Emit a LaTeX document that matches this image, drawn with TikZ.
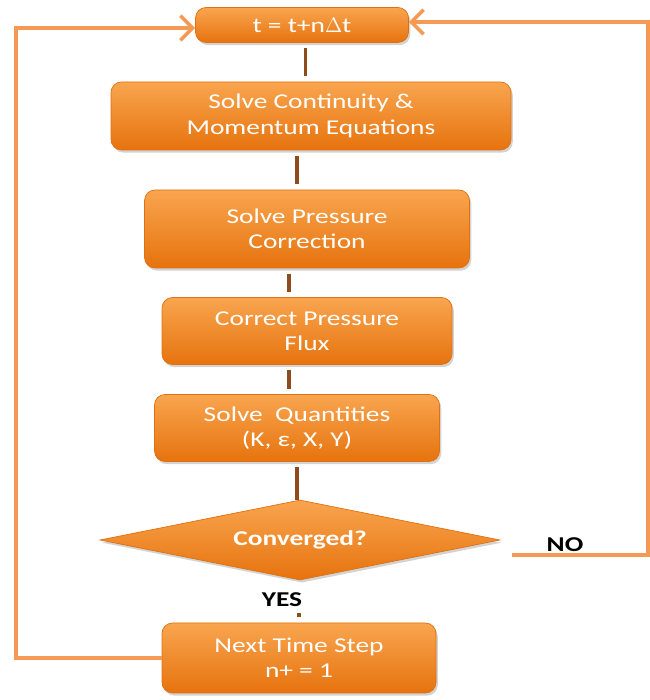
\documentclass[tikz,border=0pt]{standalone}
\usepackage{fontspec}
\setsansfont{Carlito}[FakeStretch=1.3]
\usetikzlibrary{shapes.geometric,arrows.meta,shadows}
\definecolor{boxtop}{HTML}{F9A54F}
\definecolor{boxbot}{HTML}{E6730E}
\definecolor{boxline}{HTML}{E07010}
\definecolor{loopline}{HTML}{F59A55}
\definecolor{linkline}{HTML}{8E4C1C}

\begin{document}
\begin{tikzpicture}[
    stepbox/.style={draw=boxline,rounded corners=6pt,top color=boxtop,bottom color=boxbot,
      text=white,align=center,inner sep=0pt,font=\sffamily\fontsize{12}{14.5}\selectfont,
      drop shadow={opacity=0.35,shadow xshift=1pt,shadow yshift=-1.5pt}},
    decision/.style={diamond,aspect=5,draw=boxline,top color=boxtop,bottom color=boxbot,
      text=white,inner sep=0pt,minimum width=8cm,minimum height=1.6cm,
      font=\sffamily\bfseries\fontsize{12}{14.5}\selectfont,
      drop shadow={opacity=0.35,shadow xshift=1pt,shadow yshift=-1.5pt}},
    link/.style={draw=linkline,line width=2.2pt,shorten <=3pt,shorten >=3pt},
    loop/.style={draw=loopline,line width=2pt,-{Straight Barb[length=7pt,width=14pt]}},
    answer/.style={font=\sffamily\bfseries\fontsize{12}{14}\selectfont}
  ]
  \useasboundingbox (0,0) rectangle (13,14);

  \node[stepbox,minimum width=4.26cm,minimum height=0.7cm] (time) at (6.04,13.5) {t = t+n$\Delta$t};
  \node[stepbox,minimum width=8cm,minimum height=1.36cm] (cont) at (6.22,11.68) {Solve Continuity \&\\Momentum Equations};
  \node[stepbox,minimum width=6.5cm,minimum height=1.56cm] (press) at (6.14,9.42) {Solve Pressure\\Correction};
  \node[stepbox,minimum width=5.8cm,minimum height=1.34cm] (flux) at (6.14,7.38) {Correct Pressure\\Flux};
  \node[stepbox,minimum width=5.7cm,minimum height=1.34cm] (quant) at (5.94,5.44) {Solve\ \ Quantities\\(K, ε, X, Y)};
  \node[decision] (conv) at (6.0,3.2) {Converged?};
  \node[stepbox,minimum width=5.48cm,minimum height=1.4cm] (next) at (5.98,0.84) {Next Time Step\\n+ = 1};

  \node[answer] (yes) at (5.64,2.0) {YES};
  \node[answer] (no) at (11.3,3.1) {NO};

  % straight links down the column
  \draw[link] ([xshift=2pt]time.south) -- ([xshift=2pt]time.south |- cont.north);
  \draw[link] ([xshift=-8pt]cont.south) -- ([xshift=-8pt]cont.south |- press.north);
  \draw[link] ([xshift=-10pt]press.south) -- ([xshift=-10pt]press.south |- flux.north);
  \draw[link] ([xshift=-10pt]flux.south) -- ([xshift=-10pt]flux.south |- quant.north);
  \draw[link,shorten >=0pt] (quant.south) -- (quant.south |- conv.north);
  \draw[link,shorten <=0pt] (yes.south -| next.north) -- (next.north);

  % loops back to the time step
  \coordinate (leftcorner) at (0.32,13.44);
  \coordinate (nostart) at (10.24,2.9);
  \coordinate (rightcorner) at (12.96,13.56);
  \draw[loop] (next.west) -| (leftcorner) -- (leftcorner -| time.west);
  \draw[loop] (nostart) -| (rightcorner) -- (rightcorner -| time.east);
\end{tikzpicture}
\end{document}
